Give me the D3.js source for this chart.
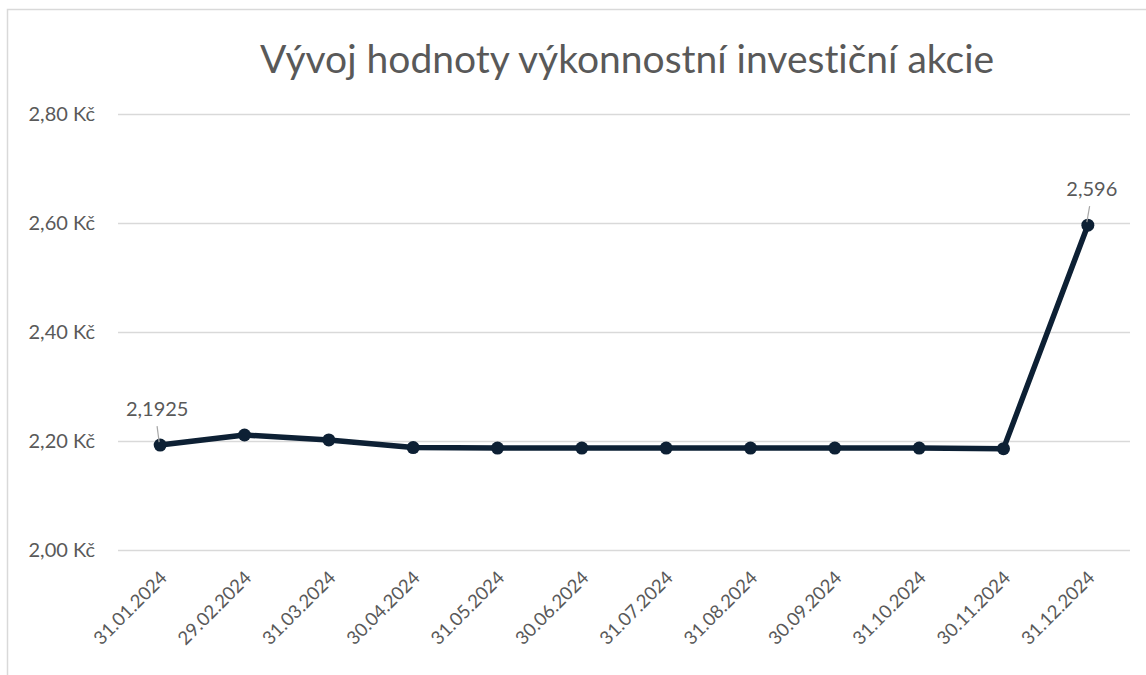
<!DOCTYPE html>
<html>
<head>
<meta charset="utf-8">
<script src="https://d3js.org/d3.v7.min.js"></script>
<style>
	body { margin: 0; background: #fff; }
	text { font-family: Lato, "Open Sans", sans-serif; fill: #595959; font-variant-ligatures: none; }
</style>
</head>
<body>
<svg width="1146" height="675"></svg>
<script>
var dates = ["31.01.2024", "29.02.2024", "31.03.2024", "30.04.2024", "31.05.2024", "30.06.2024",
	"31.07.2024", "31.08.2024", "30.09.2024", "31.10.2024", "30.11.2024", "31.12.2024"];
var values = [2.1925, 2.211, 2.202, 2.188, 2.187, 2.187, 2.187, 2.187, 2.187, 2.187, 2.186, 2.596];
var yTicks = [2.0, 2.2, 2.4, 2.6, 2.8];
var labelled = {0: "2,1925", 11: "2,596"};
var title = "Vývoj hodnoty výkonnostní investiční akcie";

var svg = d3.select("svg");
var margin = {top: 114, right: 16, bottom: 125, left: 118};
var width = 1146 - margin.left - margin.right,
	height = 675 - margin.top - margin.bottom;

// chart frame
svg.append("rect")
	.attr("x", 7.5).attr("y", 9.5)
	.attr("width", 1160).attr("height", 700)
	.attr("fill", "none")
	.attr("stroke", "#d9d9d9")
	.attr("stroke-width", 1.5);

svg.append("text")
	.attr("x", 627)
	.attr("y", 73)
	.attr("text-anchor", "middle")
	.style("font-size", "39px")
	.text(title);

var chart = svg.append("g")
	.attr("transform", "translate(" + margin.left + "," + margin.top + ")");

var x = d3.scaleBand().domain(dates).range([0, width]);
var y = d3.scaleLinear().domain([2.0, 2.8]).range([height, 0]);

var fmt = function(d){ return d3.format(".2f")(d).replace(".", ",") + " Kč"; };

var yAxis = chart.append("g")
	.call(d3.axisLeft(y).tickValues(yTicks).tickSize(-width).tickPadding(23).tickFormat(fmt));
yAxis.select(".domain").remove();
yAxis.selectAll("line").attr("stroke", "#d9d9d9").attr("stroke-width", 1.5);
yAxis.selectAll("text").style("font-size", "20px").attr("fill", "#595959");

var xAxis = chart.append("g")
	.attr("transform", "translate(0," + height + ")")
	.call(d3.axisBottom(x).tickSize(0));
xAxis.select(".domain").remove();
xAxis.selectAll("text")
	.style("font-size", "18.5px")
	.attr("fill", "#595959")
	.attr("text-anchor", "end")
	.attr("dy", null)
	.attr("y", 0)
	.attr("transform", "translate(8,29) rotate(-45)");

var cx = function(d, i){ return x(dates[i]) + x.bandwidth() / 2; };

var line = d3.line()
	.x(function(d, i){ return cx(d, i); })
	.y(function(d){ return y(d); });

chart.append("path")
	.datum(values)
	.attr("fill", "none")
	.attr("stroke", "#0d2034")
	.attr("stroke-width", 5.5)
	.attr("stroke-linejoin", "round")
	.attr("d", line);

chart.selectAll(".dot").data(values).enter().append("circle")
	.attr("class", "dot")
	.attr("cx", cx)
	.attr("cy", function(d){ return y(d); })
	.attr("r", 6.5)
	.attr("fill", "#0d2034");

// data labels with leader lines
values.forEach(function(v, i){
	if (!labelled[i]) return;
	var px = cx(v, i), py = y(v);
	var dx = i == 0 ? -3 : 4;
	chart.append("line")
		.attr("x1", px - 1).attr("y1", py - 3)
		.attr("x2", px - 1 + dx * 0.7).attr("y2", py - 19)
		.attr("stroke", "#a6a6a6")
		.attr("stroke-width", 1.2);
	chart.append("text")
		.attr("x", px + dx)
		.attr("y", py - 29)
		.attr("text-anchor", "middle")
		.style("font-size", "20px")
		.attr("fill", "#404040")
		.text(labelled[i]);
});
</script>
</body>
</html>
